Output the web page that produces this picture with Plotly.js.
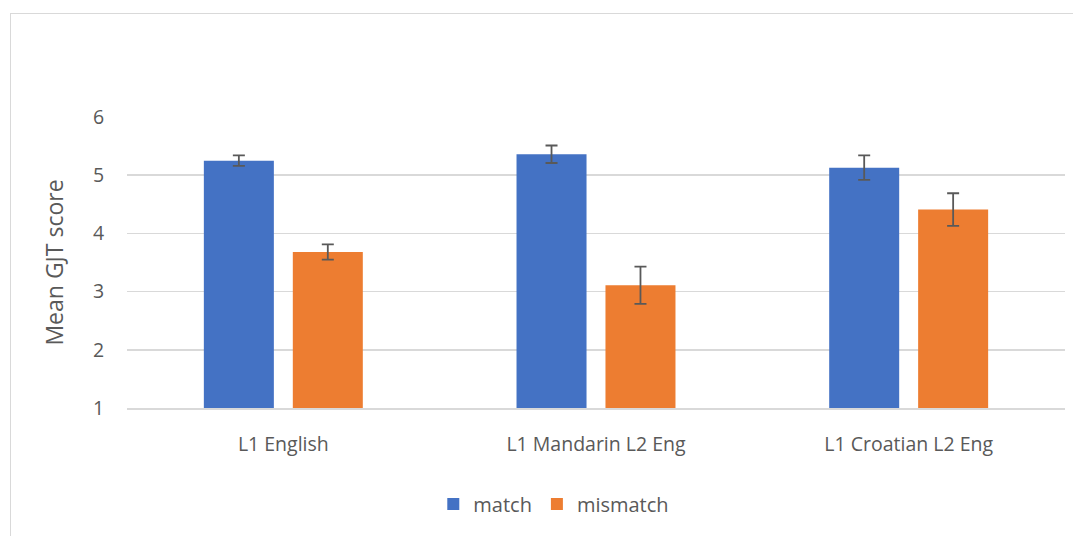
<!DOCTYPE html>
<html><head><meta charset="utf-8">
<script src="https://cdn.plot.ly/plotly-3.0.1.min.js"></script>
<style>
html,body{margin:0;padding:0;background:#fff;}
#wrap{position:relative;width:1073px;height:536px;}
#chart{width:1073px;height:536px;}
#frame{position:absolute;left:10px;top:13px;width:1070px;height:540px;border:1px solid #d9d9d9;pointer-events:none;}
</style></head>
<body>
<div id="wrap"><div id="chart"></div><div id="frame"></div></div>
<script>
const categories = ["L1 English", "L1 Mandarin L2 Eng", "L1 Croatian L2 Eng"];
const matchValues = [5.25, 5.36, 5.13];
const matchErrors = [0.09, 0.15, 0.21];
const mismatchValues = [3.68, 3.11, 4.41];
const mismatchErrors = [0.13, 0.32, 0.28];

const errStyle = {type: 'data', visible: true, color: '#595959', thickness: 1.8, width: 6};
const traces = [
  {type: 'bar', name: 'match', x: categories, y: matchValues,
   marker: {color: '#4472c4'},
   error_y: Object.assign({array: matchErrors}, errStyle)},
  {type: 'bar', name: 'mismatch', x: categories, y: mismatchValues,
   marker: {color: '#ed7d31'},
   error_y: Object.assign({array: mismatchErrors}, errStyle)}
];
const font = '"Open Sans", sans-serif';
const layout = {
  width: 1073, height: 536,
  margin: {l: 127, r: 8, t: 117, b: 128},
  paper_bgcolor: '#ffffff', plot_bgcolor: '#ffffff',
  barmode: 'group', bargap: 0.431, bargroupgap: 0.213,
  font: {family: font, color: '#595959', size: 19},
  showlegend: true,
  legend: {orientation: 'h', x: 0.455, xanchor: 'center', y: -0.33, yanchor: 'middle',
           font: {family: font, size: 20, color: '#595959'}, traceorder: 'normal', itemwidth: 30},
  xaxis: {showgrid: false, showline: true, linecolor: '#d9d9d9', linewidth: 1.5,
          ticks: 'outside', ticklen: 18, tickcolor: 'rgba(0,0,0,0)',
          tickfont: {family: font, size: 19.5, color: '#595959'}, fixedrange: true},
  yaxis: {range: [1, 6], tickvals: [1, 2, 3, 4, 5, 6], showgrid: true, gridcolor: '#d9d9d9', gridwidth: 1.5,
          zeroline: false, showline: false, ticks: 'outside', ticklen: 18, tickcolor: 'rgba(0,0,0,0)',
          tickfont: {family: font, size: 19.5, color: '#595959'},
          title: {text: 'Mean GJT score', font: {family: font, size: 23, color: '#595959'}, standoff: 22}}
};
Plotly.newPlot('chart', traces, layout, {displayModeBar: false, staticPlot: true});
</script>
</body></html>
